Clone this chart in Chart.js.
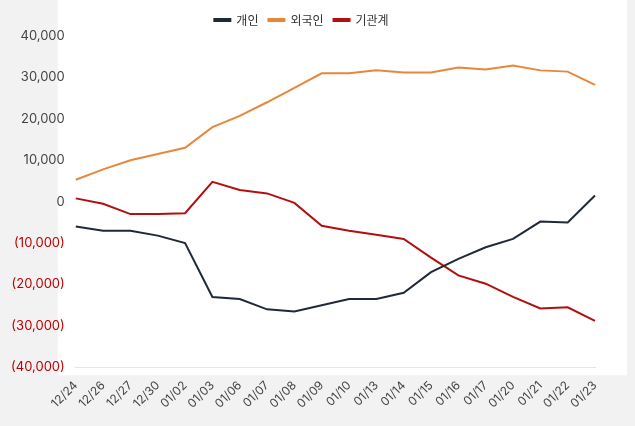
<!DOCTYPE html>
<html><head><meta charset="utf-8">
<script src="https://cdn.jsdelivr.net/npm/chart.js@4/dist/chart.umd.min.js"></script>
<style>body{margin:0;background:#f2f2f2}#w{width:635px;height:426px}</style>
</head><body><div id="w"><canvas id="c"></canvas></div>
<script>
const labels = ['12/24','12/26','12/27','12/30','01/02','01/03','01/06','01/07','01/08','01/09','01/10','01/13','01/14','01/15','01/16','01/17','01/20','01/21','01/22','01/23'];
const individual = [-6000,-7000,-7000,-8200,-10000,-23000,-23500,-26000,-26500,-25000,-23500,-23500,-22000,-17000,-13800,-11000,-9000,-4800,-5000,1500];
const foreign = [5300,7800,10000,11500,13000,18000,20700,24000,27500,31000,31000,31700,31200,31200,32400,31900,32900,31700,31400,28200];
const institution = [800,-500,-3000,-3000,-2800,4800,2800,2000,-300,-5800,-7000,-8000,-9000,-13500,-17800,-19800,-23000,-25800,-25500,-28800];

const whiteBg = {
    id: 'whiteBg',
    beforeDraw(chart) {
        const { ctx, chartArea: a } = chart;
        ctx.save();
        ctx.fillStyle = '#fff';
        ctx.fillRect(a.left - 18, 0, a.right - a.left + 50, a.bottom + 8);
        ctx.restore();
    }
};

const line = (label, data, color) => ({
    label, data, borderColor: color, backgroundColor: color,
    borderWidth: 2, pointRadius: 0, tension: 0
});

new Chart(document.getElementById('c'), {
    type: 'line',
    data: {
        labels,
        datasets: [
            line('개인', individual, '#1f2937'),
            line('외국인', foreign, '#e8873a'),
            line('기관계', institution, '#b30f0f')
        ]
    },
    options: {
        responsive: true, maintainAspectRatio: false, animation: false,
        layout: { padding: { left: 8, right: 40, top: 4, bottom: 12 } },
        plugins: {
            legend: {
                position: 'top',
                labels: { boxWidth: 16, boxHeight: 2, font: { size: 12, family: 'Noto Sans CJK KR' }, color: '#333' }
            }
        },
        scales: {
            x: {
                grid: { display: false },
                ticks: { maxRotation: 45, minRotation: 45, color: '#444', font: { size: 12, family: 'Inter' } }
            },
            y: {
                min: -40000, max: 40000,
                grid: { display: false },
                border: { display: false },
                ticks: {
                    stepSize: 10000,
                    font: { size: 13, family: 'Inter' },
                    color: ctx => ctx.tick.value < 0 ? '#c00000' : '#444',
                    callback: v => v < 0 ? '(' + Math.abs(v).toLocaleString('en-US') + ')' : v.toLocaleString('en-US')
                }
            }
        }
    },
    plugins: [whiteBg]
});
</script></body></html>
